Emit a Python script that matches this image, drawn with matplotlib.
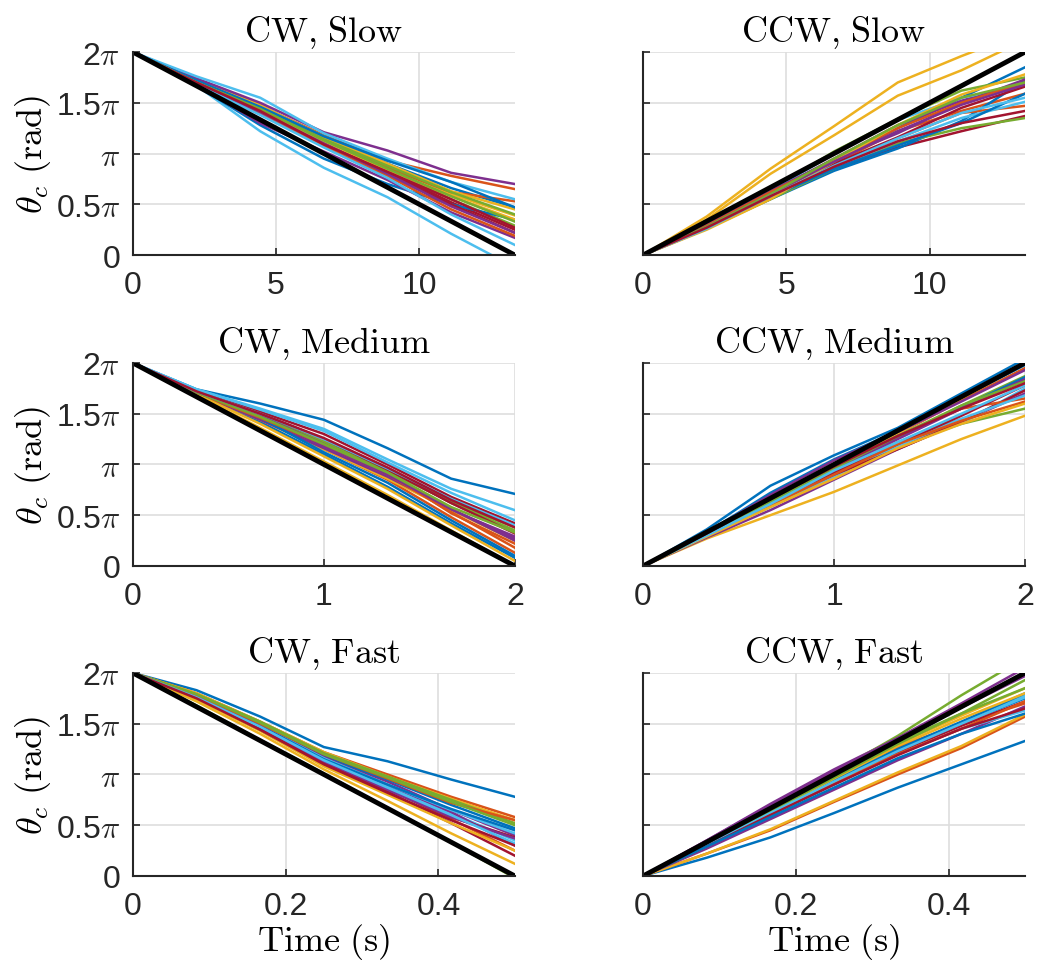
import numpy as np
import matplotlib
matplotlib.use("Agg")
import matplotlib.pyplot as plt

plt.rcParams['font.family'] = ['Liberation Sans', 'DejaVu Sans']
plt.rcParams['mathtext.fontset'] = 'cm'

# MATLAB default line colours
matlab_colors = ['#0072BD', '#D95319', '#EDB120', '#7E2F8E',
                 '#77AC30', '#4DBEEE', '#A2142F']
axis_gray = '#262626'

# trial durations (s) for each speed
durations = {'Slow': 40 / 3, 'Medium': 2.0, 'Fast': 0.5}
x_ticks = {'Slow': [0, 5, 10], 'Medium': [0, 1, 2], 'Fast': [0, 0.2, 0.4]}
x_ticklabels = {'Slow': ['0', '5', '10'], 'Medium': ['0', '1', '2'],
                'Fast': ['0', '0.2', '0.4']}

# commanded angle (multiples of pi)
ideal_cw = [2, 0]
ideal_ccw = [0, 2]

# measured angle, multiples of pi, sampled at 0, 1/6, ..., 1 of the duration
cw_slow = [
    [2, 1.70, 1.45, 1.16, 0.90, 0.66, 0.47],
    [2, 1.72, 1.47, 1.18, 0.93, 0.78, 0.65],
    [2, 1.72, 1.48, 1.15, 0.88, 0.60, 0.39],
    [2, 1.74, 1.50, 1.21, 1.03, 0.81, 0.70],
    [2, 1.71, 1.46, 1.12, 0.86, 0.55, 0.29],
    [2, 1.67, 1.22, 0.86, 0.57, 0.21, -0.12],
    [2, 1.69, 1.42, 1.10, 0.82, 0.52, 0.25],
    [2, 1.67, 1.28, 0.95, 0.70, 0.50, 0.35],
    [2, 1.70, 1.44, 1.13, 0.86, 0.62, 0.53],
    [2, 1.71, 1.47, 1.17, 0.90, 0.63, 0.45],
    [2, 1.68, 1.30, 1.02, 0.74, 0.42, 0.17],
    [2, 1.70, 1.45, 1.14, 0.88, 0.62, 0.40],
    [2, 1.76, 1.55, 1.20, 0.95, 0.72, 0.55],
    [2, 1.69, 1.40, 1.08, 0.80, 0.50, 0.22],
    [2, 1.72, 1.46, 1.17, 0.93, 0.72, 0.47],
    [2, 1.69, 1.40, 1.07, 0.78, 0.45, 0.19],
    [2, 1.70, 1.43, 1.12, 0.84, 0.58, 0.35],
    [2, 1.69, 1.41, 1.10, 0.80, 0.48, 0.22],
    [2, 1.70, 1.44, 1.13, 0.85, 0.58, 0.33],
    [2, 1.68, 1.38, 1.06, 0.76, 0.40, 0.10],
    [2, 1.70, 1.42, 1.09, 0.82, 0.55, 0.27],
]

ccw_slow = [
    [0, 0.30, 0.62, 0.92, 1.25, 1.55, 1.85],
    [0, 0.28, 0.58, 0.90, 1.22, 1.42, 1.59],
    [0, 0.38, 0.85, 1.27, 1.70, 1.96, 2.20],
    [0, 0.29, 0.62, 0.95, 1.28, 1.52, 1.70],
    [0, 0.30, 0.64, 1.02, 1.34, 1.62, 1.75],
    [0, 0.30, 0.63, 1.00, 1.33, 1.55, 1.67],
    [0, 0.26, 0.56, 0.84, 1.06, 1.22, 1.37],
    [0, 0.27, 0.55, 0.83, 1.05, 1.32, 1.72],
    [0, 0.27, 0.57, 0.88, 1.15, 1.40, 1.47],
    [0, 0.35, 0.80, 1.18, 1.57, 1.82, 2.12],
    [0, 0.30, 0.63, 0.94, 1.20, 1.50, 1.73],
    [0, 0.26, 0.55, 0.85, 1.10, 1.25, 1.35],
    [0, 0.27, 0.57, 0.86, 1.12, 1.35, 1.51],
    [0, 0.28, 0.59, 0.90, 1.16, 1.45, 1.66],
    [0, 0.27, 0.57, 0.85, 1.08, 1.30, 1.59],
    [0, 0.29, 0.62, 0.93, 1.25, 1.50, 1.70],
    [0, 0.25, 0.55, 0.92, 1.28, 1.58, 1.78],
    [0, 0.28, 0.60, 0.92, 1.22, 1.48, 1.68],
    [0, 0.28, 0.60, 0.95, 1.28, 1.55, 1.70],
    [0, 0.26, 0.58, 0.88, 1.15, 1.40, 1.55],
    [0, 0.27, 0.58, 0.87, 1.12, 1.30, 1.42],
]

cw_medium = [
    [2, 1.74, 1.60, 1.44, 1.16, 0.86, 0.71],
    [2, 1.71, 1.48, 1.22, 0.92, 0.52, 0.22],
    [2, 1.68, 1.36, 1.03, 0.70, 0.35, 0.00],
    [2, 1.71, 1.46, 1.18, 0.90, 0.55, 0.29],
    [2, 1.71, 1.47, 1.22, 0.96, 0.62, 0.35],
    [2, 1.74, 1.55, 1.35, 1.05, 0.76, 0.55],
    [2, 1.72, 1.52, 1.30, 1.00, 0.68, 0.42],
    [2, 1.69, 1.42, 1.10, 0.78, 0.42, 0.08],
    [2, 1.70, 1.45, 1.15, 0.85, 0.48, 0.13],
    [2, 1.70, 1.44, 1.15, 0.86, 0.55, 0.25],
    [2, 1.70, 1.44, 1.16, 0.88, 0.56, 0.27],
    [2, 1.71, 1.48, 1.22, 0.93, 0.63, 0.38],
    [2, 1.74, 1.54, 1.33, 1.02, 0.72, 0.45],
    [2, 1.71, 1.50, 1.25, 0.95, 0.62, 0.32],
    [2, 1.70, 1.46, 1.12, 0.82, 0.45, 0.10],
    [2, 1.70, 1.46, 1.20, 0.90, 0.53, 0.18],
    [2, 1.69, 1.40, 1.08, 0.76, 0.40, 0.05],
    [2, 1.71, 1.48, 1.20, 0.90, 0.56, 0.25],
    [2, 1.71, 1.47, 1.20, 0.92, 0.58, 0.33],
    [2, 1.72, 1.50, 1.25, 0.96, 0.66, 0.40],
    [2, 1.72, 1.50, 1.26, 0.97, 0.65, 0.38],
]

ccw_medium = [
    [0, 0.36, 0.79, 1.09, 1.36, 1.70, 2.04],
    [0, 0.32, 0.65, 0.97, 1.30, 1.63, 1.95],
    [0, 0.27, 0.50, 0.73, 0.99, 1.25, 1.48],
    [0, 0.28, 0.55, 0.85, 1.15, 1.42, 1.70],
    [0, 0.30, 0.60, 0.95, 1.22, 1.40, 1.55],
    [0, 0.30, 0.58, 0.88, 1.18, 1.40, 1.75],
    [0, 0.31, 0.62, 0.90, 1.15, 1.42, 1.73],
    [0, 0.33, 0.72, 1.05, 1.33, 1.66, 1.98],
    [0, 0.31, 0.64, 0.96, 1.28, 1.55, 1.65],
    [0, 0.32, 0.66, 0.98, 1.30, 1.65, 2.00],
    [0, 0.33, 0.70, 1.04, 1.32, 1.62, 1.93],
    [0, 0.31, 0.64, 0.98, 1.26, 1.58, 1.87],
    [0, 0.30, 0.62, 0.92, 1.22, 1.45, 1.68],
    [0, 0.31, 0.62, 0.92, 1.20, 1.48, 1.78],
    [0, 0.31, 0.64, 0.96, 1.28, 1.56, 1.86],
    [0, 0.30, 0.60, 0.90, 1.20, 1.43, 1.62],
    [0, 0.29, 0.58, 0.86, 1.16, 1.40, 1.60],
    [0, 0.31, 0.63, 0.95, 1.25, 1.55, 1.84],
    [0, 0.31, 0.63, 0.96, 1.28, 1.58, 1.82],
    [0, 0.30, 0.61, 0.94, 1.22, 1.50, 1.78],
    [0, 0.32, 0.66, 0.98, 1.28, 1.55, 1.80],
]

cw_fast = [
    [2, 1.83, 1.57, 1.27, 1.13, 0.95, 0.78],
    [2, 1.80, 1.52, 1.22, 1.00, 0.78, 0.58],
    [2, 1.80, 1.52, 1.22, 0.98, 0.76, 0.55],
    [2, 1.78, 1.50, 1.18, 0.93, 0.65, 0.40],
    [2, 1.79, 1.52, 1.21, 0.98, 0.75, 0.52],
    [2, 1.77, 1.48, 1.15, 0.88, 0.62, 0.35],
    [2, 1.75, 1.45, 1.10, 0.83, 0.52, 0.20],
    [2, 1.78, 1.50, 1.18, 0.95, 0.70, 0.47],
    [2, 1.76, 1.47, 1.15, 0.86, 0.56, 0.25],
    [2, 1.72, 1.40, 1.05, 0.74, 0.42, 0.12],
    [2, 1.77, 1.49, 1.17, 0.90, 0.63, 0.30],
    [2, 1.68, 1.34, 1.01, 0.67, 0.33, -0.02],
    [2, 1.77, 1.48, 1.16, 0.90, 0.65, 0.42],
    [2, 1.76, 1.46, 1.12, 0.85, 0.58, 0.38],
    [2, 1.77, 1.48, 1.15, 0.90, 0.66, 0.45],
    [2, 1.78, 1.50, 1.20, 0.96, 0.72, 0.55],
    [2, 1.74, 1.43, 1.08, 0.80, 0.52, 0.25],
    [2, 1.76, 1.47, 1.13, 0.85, 0.58, 0.37],
    [2, 1.79, 1.51, 1.20, 0.97, 0.73, 0.50],
    [2, 1.76, 1.47, 1.14, 0.87, 0.60, 0.32],
    [2, 1.75, 1.44, 1.10, 0.82, 0.55, 0.30],
]

ccw_fast = [
    [0, 0.18, 0.38, 0.62, 0.87, 1.10, 1.33],
    [0, 0.22, 0.45, 0.73, 1.00, 1.26, 1.57],
    [0, 0.22, 0.46, 0.74, 1.02, 1.28, 1.59],
    [0, 0.35, 0.71, 1.05, 1.36, 1.70, 2.05],
    [0, 0.34, 0.69, 1.02, 1.38, 1.78, 2.15],
    [0, 0.30, 0.62, 0.92, 1.22, 1.50, 1.78],
    [0, 0.33, 0.68, 1.02, 1.34, 1.68, 2.00],
    [0, 0.30, 0.63, 0.93, 1.24, 1.50, 1.75],
    [0, 0.30, 0.62, 0.93, 1.27, 1.50, 1.70],
    [0, 0.31, 0.64, 0.97, 1.30, 1.58, 1.85],
    [0, 0.27, 0.56, 0.85, 1.14, 1.40, 1.67],
    [0, 0.32, 0.66, 1.00, 1.32, 1.60, 1.85],
    [0, 0.29, 0.60, 0.90, 1.20, 1.45, 1.63],
    [0, 0.30, 0.62, 0.92, 1.22, 1.48, 1.72],
    [0, 0.31, 0.64, 0.95, 1.25, 1.52, 1.80],
    [0, 0.30, 0.61, 0.92, 1.20, 1.45, 1.72],
    [0, 0.30, 0.63, 0.96, 1.28, 1.55, 1.80],
    [0, 0.35, 0.70, 1.04, 1.36, 1.66, 1.97],
    [0, 0.31, 0.64, 0.97, 1.30, 1.60, 1.93],
    [0, 0.30, 0.62, 0.93, 1.23, 1.50, 1.76],
    [0, 0.29, 0.60, 0.90, 1.19, 1.45, 1.65],
    [0, 0.29, 0.58, 0.87, 1.16, 1.40, 1.60],
]

panels = [
    ('CW', 'Slow', cw_slow, ideal_cw),
    ('CCW', 'Slow', ccw_slow, ideal_ccw),
    ('CW', 'Medium', cw_medium, ideal_cw),
    ('CCW', 'Medium', ccw_medium, ideal_ccw),
    ('CW', 'Fast', cw_fast, ideal_cw),
    ('CCW', 'Fast', ccw_fast, ideal_ccw),
]

y_ticks = [0, 0.5 * np.pi, np.pi, 1.5 * np.pi, 2 * np.pi]
y_ticklabels = ['0', r'0.5$\pi$', r'$\pi$', r'1.5$\pi$', r'2$\pi$']

fig = plt.figure(figsize=(10.38, 9.70), dpi=100)
col_left = [0.128, 0.6195]
row_bottom = [0.736, 0.4155, 0.0959]
ax_w, ax_h = 0.368, 0.2093

for i, (direction, speed, trials, ideal) in enumerate(panels):
    row, col = divmod(i, 2)
    ax = fig.add_axes([col_left[col], row_bottom[row], ax_w, ax_h])
    ax.set_prop_cycle(color=matlab_colors)
    T = durations[speed]

    for trial in trials:
        t = np.linspace(0, T, len(trial))
        ax.plot(t, np.array(trial) * np.pi, lw=1.8)
    ax.plot([0, T], np.array(ideal) * np.pi, color='black', lw=3.5)

    ax.set_xlim(0, T)
    ax.set_ylim(0, 2 * np.pi)
    ax.set_xticks(x_ticks[speed])
    ax.set_xticklabels(x_ticklabels[speed])
    ax.set_yticks(y_ticks)
    if col == 0:
        ax.set_yticklabels(y_ticklabels)
        ax.set_ylabel(r'$\theta_c\ \mathrm{(rad)}$', fontsize=26, labelpad=2)
    else:
        ax.set_yticklabels([])
    if row == 2:
        ax.set_xlabel(r'$\mathrm{Time\ (s)}$', fontsize=26, labelpad=0)

    ax.set_title(r'$\mathrm{%s{,}\ %s}$' % (direction, speed), fontsize=26, pad=8)

    ax.grid(True, color='#dedede', lw=1.2)
    ax.set_axisbelow(True)
    for side in ['top', 'right']:
        ax.spines[side].set_visible(False)
    for side in ['left', 'bottom']:
        ax.spines[side].set_color(axis_gray)
        ax.spines[side].set_linewidth(1.5)
    ax.tick_params(axis='both', direction='in', length=5, width=1.2,
                   colors=axis_gray, labelsize=23)
    ax.tick_params(axis='x', pad=11)
    ax.tick_params(axis='y', pad=9)

fig.savefig('out.png', dpi=100)
